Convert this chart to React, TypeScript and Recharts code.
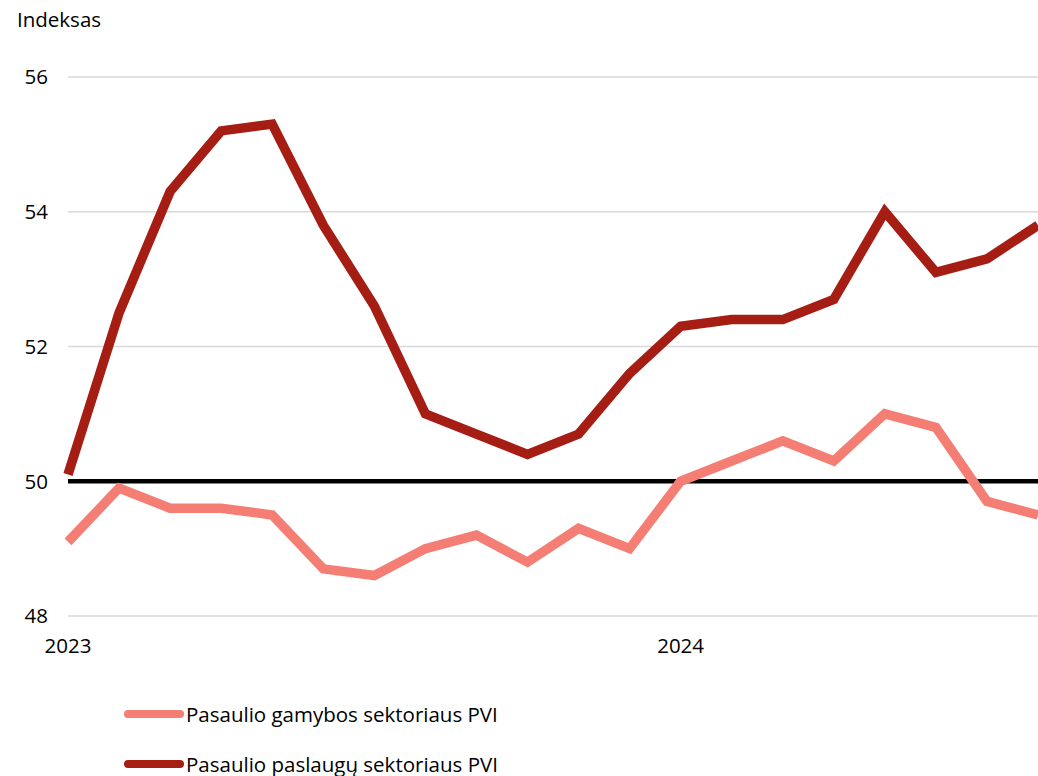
import { LineChart, Line, XAxis, YAxis, CartesianGrid, ReferenceLine } from 'recharts'

const months = [
  '2023-01', '2023-02', '2023-03', '2023-04', '2023-05', '2023-06', '2023-07', '2023-08', '2023-09', '2023-10',
  '2023-11', '2023-12', '2024-01', '2024-02', '2024-03', '2024-04', '2024-05', '2024-06', '2024-07', '2024-08',
]
const gamyba = [49.1, 49.9, 49.6, 49.6, 49.5, 48.7, 48.6, 49.0, 49.2, 48.8, 49.3, 49.0, 50.0, 50.3, 50.6, 50.3, 51.0, 50.8, 49.7, 49.5]
const paslaugos = [50.1, 52.5, 54.3, 55.2, 55.3, 53.8, 52.6, 51.0, 50.7, 50.4, 50.7, 51.6, 52.3, 52.4, 52.4, 52.7, 54.0, 53.1, 53.3, 53.8]
const yTicks = [48, 50, 52, 54, 56]
const xTicks = ['2023-01', '2024-01']

const data = months.map((m, i) => ({ m, gamyba: gamyba[i], paslaugos: paslaugos[i] }))

const LIGHT = '#F47E74'
const DARK = '#A51D13'
const font = '"Open Sans", sans-serif'
const FS = 20.5

export default function App() {
  return (
    <div style={{ position: 'absolute', left: 0, top: 0, width: 1038, height: 776, background: '#fff', fontFamily: font }}>
      <div style={{ position: 'absolute', left: 17, top: 5, fontSize: FS, color: '#000' }}>Indeksas</div>
      <LineChart width={1038} height={660} data={data} margin={{ top: 77, right: 0, left: 0, bottom: 4 }}>
        <CartesianGrid vertical={false} stroke="#d9d9d9" strokeWidth={1.5} />
        <XAxis
          dataKey="m"
          ticks={xTicks}
          interval={0}
          tickFormatter={(v: string) => v.slice(0, 4)}
          axisLine={false}
          tickLine={false}
          height={40}
          tickMargin={16}
          tick={{ fill: '#000', fontSize: FS, fontFamily: font }}
        />
        <YAxis
          domain={[48, 56]}
          ticks={yTicks}
          axisLine={false}
          tickLine={false}
          width={68}
          tickMargin={14}
          tick={{ fill: '#000', fontSize: FS, fontFamily: font }}
        />
        <ReferenceLine y={50} stroke="#000" strokeWidth={4.5} />
        <Line dataKey="gamyba" stroke={LIGHT} strokeWidth={9.5} dot={false} isAnimationActive={false} />
        <Line dataKey="paslaugos" stroke={DARK} strokeWidth={9.5} dot={false} isAnimationActive={false} />
      </LineChart>
      {[['Pasaulio gamybos sektoriaus PVI', LIGHT, 715], ['Pasaulio paslaugų sektoriaus PVI', DARK, 765]].map(([label, color, y]) => (
        <div key={label as string} style={{ position: 'absolute', left: 124, top: (y as number) - 16, height: 30, display: 'flex', alignItems: 'center', fontSize: FS, color: '#000' }}>
          <span style={{ display: 'inline-block', width: 60, height: 8, borderRadius: 4, background: color as string, marginRight: 2 }}></span>
          {label}
        </div>
      ))}
    </div>
  )
}
